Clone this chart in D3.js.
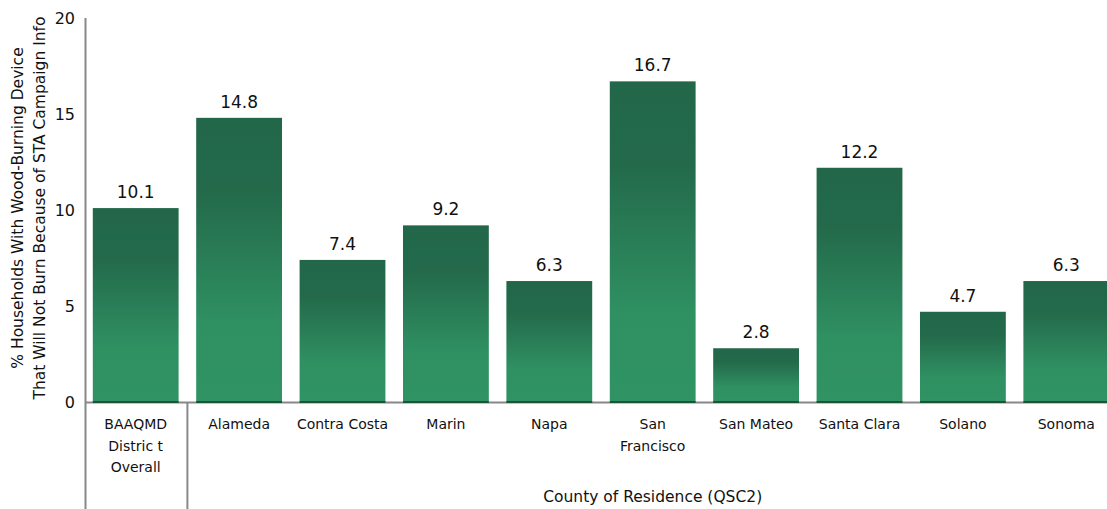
<!DOCTYPE html>
<html>
<head>
<meta charset="utf-8">
<script src="https://cdn.jsdelivr.net/npm/d3@7"></script>
<style>
    body { margin: 0; background: #fff; }
    svg { display: block; font-family: "DejaVu Sans", sans-serif; }
</style>
</head>
<body>
<div id="chart"></div>
<script>
// data
var counties = ["BAAQMD District Overall", "Alameda", "Contra Costa", "Marin", "Napa",
    "San Francisco", "San Mateo", "Santa Clara", "Solano", "Sonoma"];
var tickLines = [["BAAQMD", "Distric t", "Overall"], ["Alameda"], ["Contra Costa"], ["Marin"], ["Napa"],
    ["San", "Francisco"], ["San Mateo"], ["Santa Clara"], ["Solano"], ["Sonoma"]];
var pct = [10.1, 14.8, 7.4, 9.2, 6.3, 16.7, 2.8, 12.2, 4.7, 6.3];
var yTicks = [0, 5, 10, 15, 20];

var w = 1107;
var h = 509;
var plotLeft = 86;
var plotTop = 18;
var base = 402;

var svg = d3.select("#chart")
    .append("svg")
    .attr("width", w)
    .attr("height", h);

var grad = svg.append("defs").append("linearGradient")
    .attr("id", "barGrad")
    .attr("x1", 0).attr("y1", 0).attr("x2", 0).attr("y2", 1);
grad.append("stop").attr("offset", "0%").attr("stop-color", "#22674a");
grad.append("stop").attr("offset", "25%").attr("stop-color", "#23694a");
grad.append("stop").attr("offset", "72%").attr("stop-color", "#2f9062");
grad.append("stop").attr("offset", "100%").attr("stop-color", "#309363");

// band step ~103.4px, plot runs past the right edge like the reference
var x = d3.scaleBand()
    .domain(counties)
    .range([plotLeft - 2, plotLeft - 2 + 10 * 103.4])
    .paddingInner(0.17)
    .paddingOuter(0.085);

var y = d3.scaleLinear()
    .domain([0, 20])
    .range([base, plotTop]);

// bars
svg.selectAll("rect.bar")
    .data(pct)
    .enter()
    .append("rect")
    .attr("class", "bar")
    .attr("x", function(d, i) { return x(counties[i]); })
    .attr("y", function(d) { return y(d); })
    .attr("width", x.bandwidth())
    .attr("height", function(d) { return y(0) - y(d); })
    .attr("fill", "url(#barGrad)");

// baseline
svg.append("line")
    .attr("x1", plotLeft).attr("x2", w)
    .attr("y1", base + 0.5).attr("y2", base + 0.5)
    .attr("stroke", "#888").attr("stroke-width", 2);

// dark bottom edge of each bar
svg.selectAll("rect.edge")
    .data(pct)
    .enter()
    .append("rect")
    .attr("class", "edge")
    .attr("x", function(d, i) { return x(counties[i]); })
    .attr("y", base - 1)
    .attr("width", x.bandwidth())
    .attr("height", 2)
    .attr("fill", "#1d5439");

// value labels
svg.selectAll("text.val")
    .data(pct)
    .enter()
    .append("text")
    .attr("class", "val")
    .attr("x", function(d, i) { return x(counties[i]) + x.bandwidth() / 2; })
    .attr("y", function(d) { return y(d) - 10; })
    .attr("text-anchor", "middle")
    .attr("font-size", "17px")
    .attr("fill", "#111")
    .text(function(d) { return d.toFixed(1); });

// y axis
var yAxis = d3.axisLeft(y)
    .tickValues(yTicks)
    .tickSize(0)
    .tickPadding(11);
var yg = svg.append("g")
    .attr("transform", "translate(" + plotLeft + ",0)")
    .call(yAxis);
yg.select(".domain").remove();
yg.selectAll("text")
    .attr("font-family", "DejaVu Sans, sans-serif")
    .attr("font-size", "16px")
    .attr("fill", "#111");

svg.append("line")
    .attr("x1", plotLeft - 0.5).attr("x2", plotLeft - 0.5)
    .attr("y1", plotTop).attr("y2", h)
    .attr("stroke", "#888").attr("stroke-width", 2);

// separator between overall and counties
var sep = x(counties[1]) - (x.step() - x.bandwidth()) / 2;
svg.append("line")
    .attr("x1", sep).attr("x2", sep)
    .attr("y1", base).attr("y2", h)
    .attr("stroke", "#888").attr("stroke-width", 2);

// x tick labels
var xl = svg.selectAll("text.cat")
    .data(tickLines)
    .enter()
    .append("text")
    .attr("class", "cat")
    .attr("text-anchor", "middle")
    .attr("font-size", "14px")
    .attr("fill", "#111");
xl.selectAll("tspan")
    .data(function(d, i) { return d.map(function(t) { return { t: t, i: i }; }); })
    .enter()
    .append("tspan")
    .attr("x", function(d) { return x(counties[d.i]) + x.bandwidth() / 2; })
    .attr("y", function(d, j) { return 429 + j * 21.5; })
    .text(function(d) { return d.t; });

// axis titles
svg.append("text")
    .attr("x", (sep + x.range()[1]) / 2)
    .attr("y", 502)
    .attr("text-anchor", "middle")
    .attr("font-size", "15.5px")
    .attr("fill", "#111")
    .text("County of Residence (QSC2)");

var yt = svg.append("text")
    .attr("transform", "translate(0,208) rotate(-90)")
    .attr("text-anchor", "middle")
    .attr("font-size", "15.5px")
    .attr("fill", "#111");
yt.append("tspan").attr("x", 0).attr("y", 23).text("% Households With Wood-Burning Device");
yt.append("tspan").attr("x", 0).attr("y", 45).text("That Will Not Burn Because of STA Campaign Info");
</script>
</body>
</html>
